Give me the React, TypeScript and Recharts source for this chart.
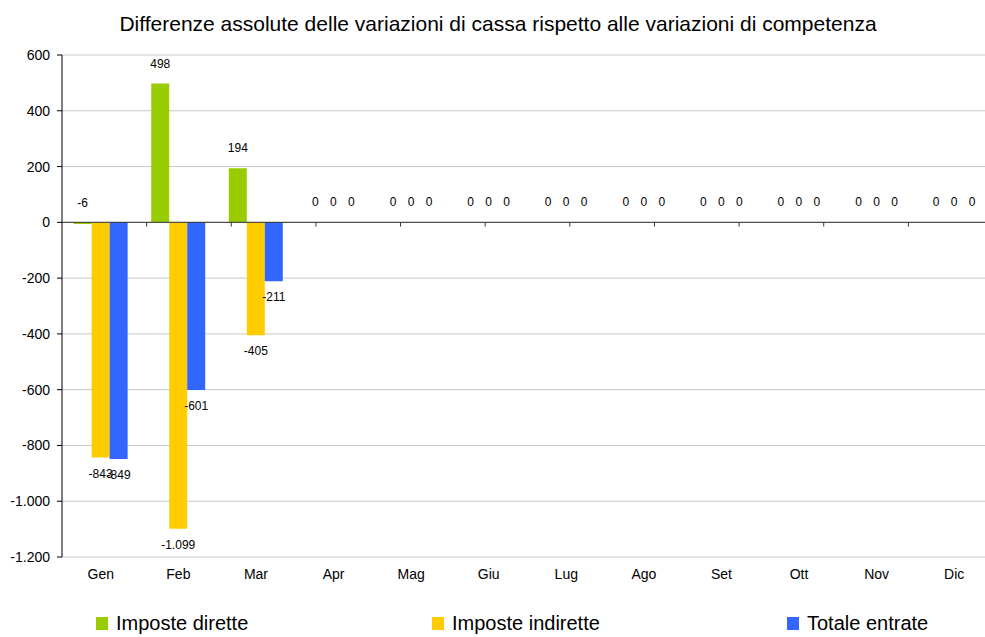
import React from 'react';
import { BarChart, Bar, XAxis, YAxis, CartesianGrid, ReferenceLine, LabelList, Legend, Rectangle } from 'recharts';

const months = ['Gen', 'Feb', 'Mar', 'Apr', 'Mag', 'Giu', 'Lug', 'Ago', 'Set', 'Ott', 'Nov', 'Dic'];
const imposteDirette = [-6, 498, 194, 0, 0, 0, 0, 0, 0, 0, 0, 0];
const imposteIndirette = [-843, -1099, -405, 0, 0, 0, 0, 0, 0, 0, 0, 0];
const totaleEntrate = [-849, -601, -211, 0, 0, 0, 0, 0, 0, 0, 0, 0];
const yTicks = [-1200, -1000, -800, -600, -400, -200, 0, 200, 400, 600];
const boundaries = [1, 2, 3, 4, 5, 6, 7, 8, 9, 10, 11];

const series = [
  { key: 'dirette', name: 'Imposte dirette', color: '#99CC00' },
  { key: 'indirette', name: 'Imposte indirette', color: '#FFCC00' },
  { key: 'totale', name: 'Totale entrate', color: '#3366FF' },
];

const data = months.map((m, i) => ({
  month: m,
  dirette: imposteDirette[i],
  indirette: imposteIndirette[i],
  totale: totaleEntrate[i],
}));

const FONT = 'Arial, "Liberation Sans", Helvetica, sans-serif';

const fmt = (v: number) => {
  const s = Math.abs(v).toString().replace(/\B(?=(\d{3})+(?!\d))/g, '.');
  return (v < 0 ? '-' : '') + s;
};

const BarLabel = (props: any) => {
  const { x, y, width, height, value } = props;
  const top = Math.min(y, y + height);
  const bottom = Math.max(y, y + height);
  const cy = value < -10 ? bottom + 17 : top - 19;
  return (
    <text x={x + width / 2} y={cy} textAnchor="middle" dominantBaseline="middle" fontSize={12} fontFamily={FONT} fill="#000">
      {fmt(value)}
    </text>
  );
};

// zero values get a 1px bar (so the label shows) but nothing is drawn
const barShape = (key: string) => (props: any) =>
  props.payload && props.payload[key] === 0 ? <g /> : <Rectangle {...props} />;

const legendLeft = [96, 432, 787];

const LegendContent = () => (
  <div style={{ position: 'relative', height: 26, fontFamily: FONT }}>
    {series.map((s, i) => (
      <div key={s.key} style={{ position: 'absolute', left: legendLeft[i], top: 0, display: 'flex', alignItems: 'center' }}>
        <span style={{ display: 'inline-block', width: 12, height: 13, background: s.color, marginRight: 8 }} />
        <span style={{ fontSize: 20, color: '#000' }}>{s.name}</span>
      </div>
    ))}
  </div>
);

export default function App() {
  return (
    <div style={{ position: 'absolute', left: 0, top: 0, width: 985, height: 637, overflow: 'hidden', background: '#fff' }}>
      <div style={{ position: 'absolute', left: 0, top: 12, width: 996, textAlign: 'center', fontFamily: FONT, fontSize: 21, color: '#000' }}>
        Differenze assolute delle variazioni di cassa rispetto alle variazioni di competenza
      </div>
      <BarChart
        width={1000}
        height={637}
        data={data}
        margin={{ top: 55, right: 7, left: 8, bottom: 50 }}
        barCategoryGap="15%"
        barGap={0}
      >
        <CartesianGrid vertical={false} stroke="#c8c8c8" />
        <XAxis
          dataKey="month"
          axisLine={false}
          tickLine={false}
          height={30}
          tickMargin={6}
          tick={{ fontSize: 14, fill: '#000', fontFamily: FONT }}
          interval={0}
        />
        <XAxis xAxisId="n" type="number" domain={[0, 12]} hide />
        <YAxis
          domain={[-1200, 600]}
          ticks={yTicks}
          interval={0}
          width={54}
          tickFormatter={fmt}
          axisLine={{ stroke: '#000' }}
          tickLine={{ stroke: '#000' }}
          tickSize={5}
          tickMargin={7}
          tick={{ fontSize: 14, fill: '#000', fontFamily: FONT }}
        />
        {series.map((s) => (
          <Bar
            key={s.key}
            dataKey={s.key}
            name={s.name}
            fill={s.color}
            minPointSize={1}
            shape={barShape(s.key)}
            isAnimationActive={false}
          >
            <LabelList dataKey={s.key} content={BarLabel} />
          </Bar>
        ))}
        <ReferenceLine y={0} stroke="#333" />
        {boundaries.map((b) => (
          <ReferenceLine
            key={b}
            xAxisId="n"
            segment={[{ x: b, y: 0 }, { x: b, y: -15 }]}
            stroke="#333"
          />
        ))}
        <Legend
          layout="horizontal"
          verticalAlign="middle"
          align="center"
          content={LegendContent}
          wrapperStyle={{ top: 612, left: 0, width: 1000 }}
        />
      </BarChart>
    </div>
  );
}
